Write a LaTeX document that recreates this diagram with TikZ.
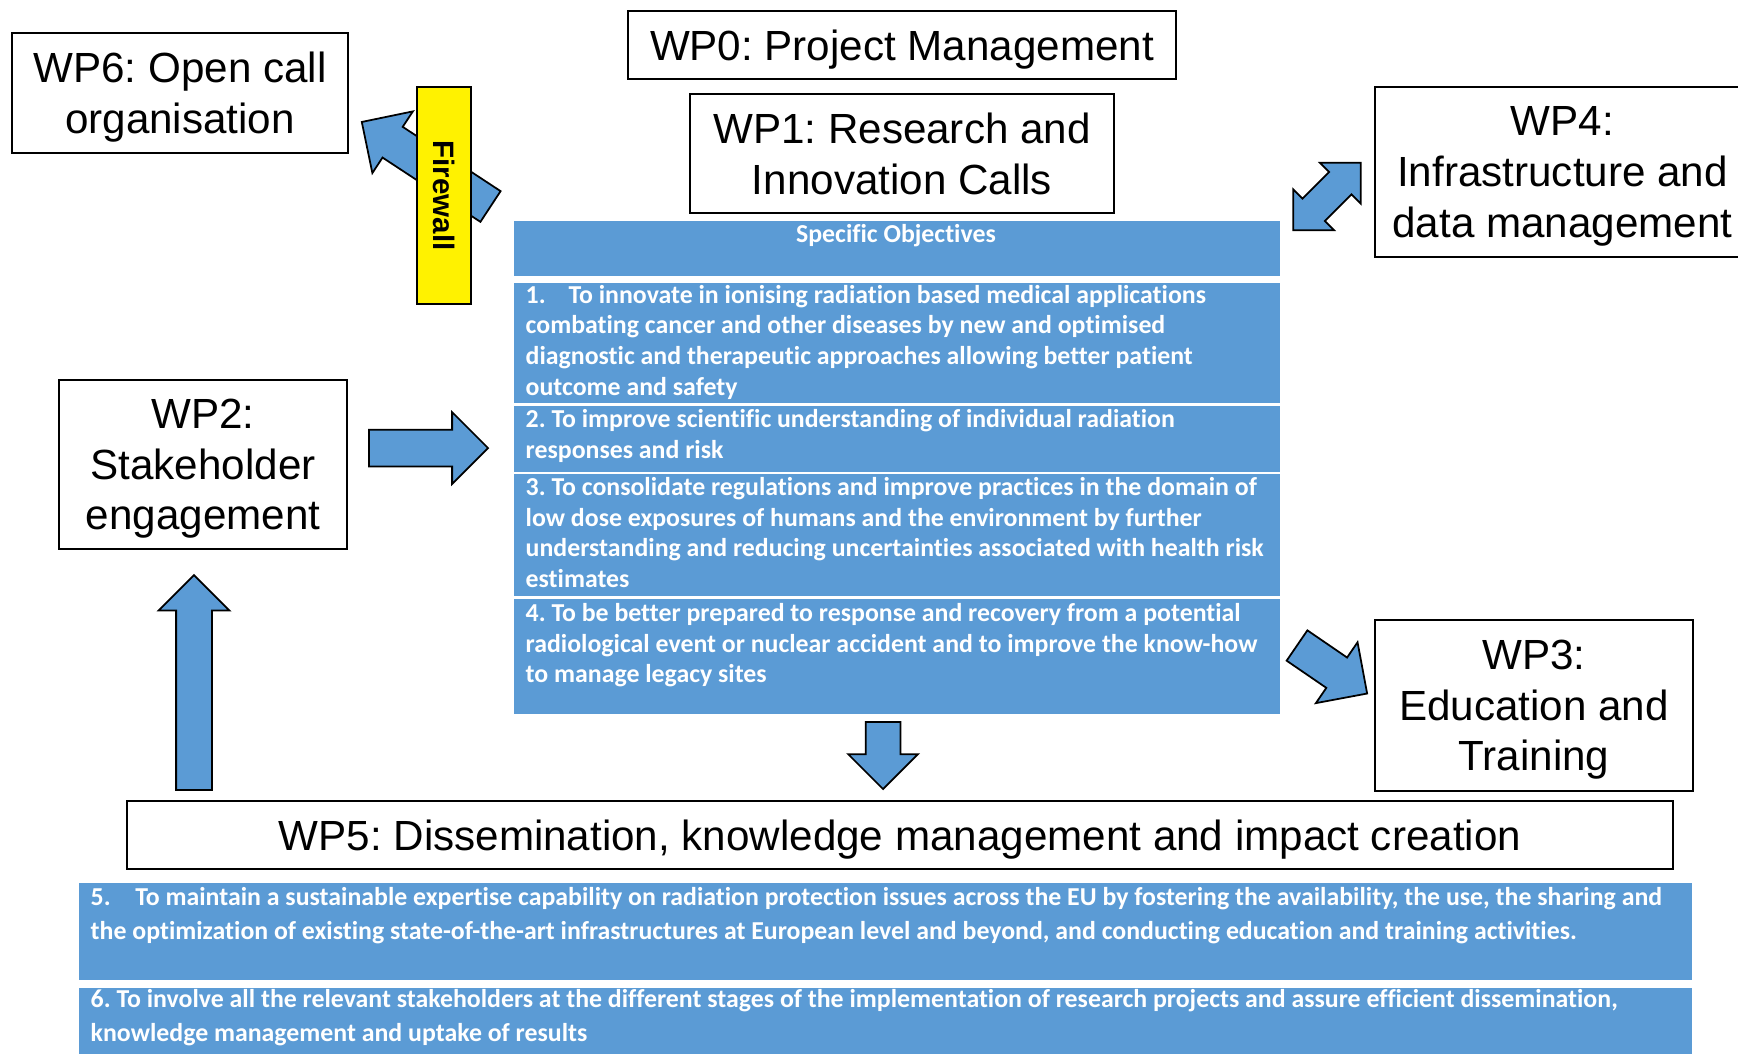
\documentclass[tikz,border=0pt]{standalone}
\usepackage{fontspec}
\setmainfont{Liberation Sans}
\newfontfamily\califont[Ligatures=NoCommon]{Carlito}
\usetikzlibrary{shapes.arrows}
\frenchspacing

\definecolor{objblue}{RGB}{91,155,213}

\begin{document}
\begin{tikzpicture}[
        every node/.style={font=\fontsize{12}{14.4}\selectfont},
        wpbox/.style={
            draw,
            line width=0.7pt,
            align=center,
            inner sep=0pt,
            text depth=0pt
        },
        objcell/.style={
            fill=objblue,
            inner sep=0pt,
            anchor=north west
        },
        objtext/.style={
            font=\califont\bfseries\fontsize{7.35}{8.7}\selectfont,
            text=white,
            align=left,
            inner sep=0pt,
            anchor=base west
        },
        blockarrow/.style={
            single arrow,
            draw,
            fill=objblue,
            line width=0.5pt,
            single arrow tip angle=90,
            single arrow head extend=0.175cm,
            inner sep=0pt,
            inner ysep=0.175cm,
            outer sep=0pt,
            anchor=tail
        },
        firewall/.style={
            draw,
            fill=yellow,
            line width=0.7pt,
            inner sep=0pt,
            font=\bfseries\fontsize{8.4}{10}\selectfont
        }
    ]

    \useasboundingbox (0,0) rectangle (17.38,-10.53);

    % =========================
    % Work packages
    % =========================
    \node[wpbox, minimum width=5.48cm, minimum height=0.68cm] (wp0) at (9.02,-0.45) {WP0: Project Management};
    \node[wpbox, minimum width=4.24cm, minimum height=1.19cm] (wp1) at (9.02,-1.535) {WP1: Research and\\Innovation Calls};
    \node[wpbox, minimum width=3.36cm, minimum height=1.20cm] (wp6) at (1.80,-0.93) {WP6: Open call\\organisation};
    \node[wpbox, minimum width=3.75cm, minimum height=1.70cm] (wp4) at (15.625,-1.72) {WP4:\\Infrastructure and\\data management};
    \node[wpbox, minimum width=2.88cm, minimum height=1.69cm] (wp2) at (2.03,-4.645) {WP2:\\Stakeholder\\engagement};
    \node[wpbox, minimum width=3.18cm, minimum height=1.71cm] (wp3) at (15.34,-7.055) {WP3:\\Education and\\Training};
    \node[wpbox, minimum width=15.46cm, minimum height=0.68cm] (wp5) at (9.00,-8.35) {WP5: Dissemination, knowledge management and impact creation};

    % =========================
    % Specific objectives table
    % =========================
    \node[objcell, minimum width=7.66cm, minimum height=0.55cm] (hd) at (5.13,-2.20) {};
    \node[objcell, minimum width=7.66cm, minimum height=1.20cm] (so1) at (5.13,-2.825) {};
    \node[objcell, minimum width=7.66cm, minimum height=0.66cm] (so2) at (5.13,-4.05) {};
    \node[objcell, minimum width=7.66cm, minimum height=1.22cm] (so3) at (5.13,-4.735) {};
    \node[objcell, minimum width=7.66cm, minimum height=1.15cm] (so4) at (5.13,-5.98) {};

    % text anchored at the baseline of its last line
    \node[objtext, anchor=base] (hdt) at (8.96,-2.427) {Specific Objectives};
    \node[objtext] (so1t) at (5.25,-3.951) {1.\hspace{6.5pt}To innovate in ionising radiation based medical applications\\combating cancer and other diseases by new and optimised\\diagnostic and therapeutic approaches allowing better patient\\outcome and safety};
    \node[objtext] (so2t) at (5.25,-4.583) {2. To improve scientific understanding of individual radiation\\responses and risk};
    \node[objtext] (so3t) at (5.25,-5.873) {3. To consolidate regulations and improve practices in the domain of\\low dose exposures of humans and the environment by further\\understanding and reducing uncertainties associated with health risk\\estimates};
    \node[objtext] (so4t) at (5.25,-6.829) {4. To be better prepared to response and recovery from a potential\\radiological event or nuclear accident and to improve the know-how\\to manage legacy sites};

    % bottom objectives
    \node[objcell, minimum width=16.13cm, minimum height=0.975cm] (so5) at (0.78,-8.82) {};
    \node[objcell, minimum width=16.13cm, minimum height=0.70cm] (so6) at (0.78,-9.87) {};

    \node[objtext, font=\califont\bfseries\fontsize{7.35}{9.67}\selectfont] (so5t) at (0.90,-9.39) {5.\hspace{7pt}To maintain a sustainable expertise capability on radiation protection issues across the EU by fostering the availability, the use, the sharing and\\the optimization of existing state-of-the-art infrastructures at European level and beyond, and conducting education and training activities.};
    \node[objtext, font=\califont\bfseries\fontsize{7.35}{9.67}\selectfont] (so6t) at (0.90,-10.417) {6. To involve all the relevant stakeholders at the different stages of the implementation of research projects and assure efficient dissemination,\\knowledge management and uptake of results};

    % =========================
    % Block arrows
    % =========================
    \node[blockarrow, rotate=146.7, minimum height=1.54cm, single arrow head extend=0.185cm] (a16) at (4.905,-2.065) {};
    \node[firewall, rotate=-90, minimum width=2.17cm, minimum height=0.54cm] (fw) at (4.44,-1.955) {Firewall};

    \node[double arrow, draw, fill=objblue, line width=0.5pt, double arrow tip angle=90,
          double arrow head extend=0.13cm, inner sep=0pt, inner ysep=0.15cm, outer sep=0pt,
          rotate=45, minimum height=0.955cm] (a14) at (13.27,-1.965) {};

    \node[blockarrow, minimum height=1.19cm] (a21) at (3.69,-4.48) {};
    \node[blockarrow, rotate=-34.4, minimum height=0.85cm, single arrow head extend=0.185cm] (a13) at (12.97,-6.455) {};
    \node[blockarrow, rotate=-90, minimum height=0.67cm, inner ysep=0.165cm] (a15) at (8.83,-7.22) {};
    \node[blockarrow, rotate=90, minimum height=2.15cm, inner ysep=0.17cm] (a52) at (1.94,-7.90) {};

\end{tikzpicture}
\end{document}
